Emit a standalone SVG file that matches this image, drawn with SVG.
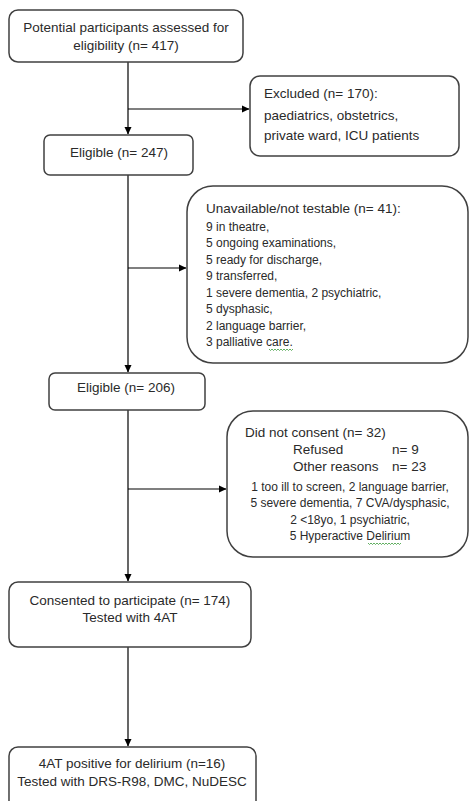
<svg xmlns="http://www.w3.org/2000/svg" width="469" height="801" viewBox="0 0 469 801">
<defs>
<style>
.box{fill:#fff;stroke:#404040;stroke-width:1.5}
.t{font-family:"Liberation Sans",Arial,sans-serif;font-size:13.5px;fill:#2a2a2a}
.s{font-family:"Liberation Sans",Arial,sans-serif;font-size:12px;fill:#2a2a2a}
.c{text-anchor:middle}
.ln{stroke:#000;stroke-width:1.2;fill:none}
.sq{stroke:#3a9a3a;stroke-width:0.8;fill:none}
</style>
<marker id="ah" markerWidth="8" markerHeight="8" refX="7" refY="4" orient="auto" markerUnits="userSpaceOnUse">
<path d="M0,0.5 L7.5,4 L0,7.5 Z" fill="#000"/>
</marker>
</defs>
<rect width="469" height="801" fill="#fff"/>
<g id="connectors">
<line class="ln" x1="128" y1="62" x2="128" y2="134" marker-end="url(#ah)"/>
<line class="ln" x1="128" y1="109" x2="249" y2="109" marker-end="url(#ah)"/>
<line class="ln" x1="128" y1="175" x2="128" y2="372" marker-end="url(#ah)"/>
<line class="ln" x1="128" y1="268" x2="186" y2="268" marker-end="url(#ah)"/>
<line class="ln" x1="128" y1="410" x2="128" y2="581" marker-end="url(#ah)"/>
<line class="ln" x1="128" y1="489" x2="226" y2="489" marker-end="url(#ah)"/>
<line class="ln" x1="128" y1="647" x2="128" y2="746" marker-end="url(#ah)"/>
</g>
<g id="n1">
<rect class="box" x="9" y="10" width="234" height="52" rx="9"/>
<text class="t c" x="126" y="32">Potential participants assessed for</text>
<text class="t c" x="126" y="50">eligibility (n= 417)</text>
</g>
<g id="excluded">
<rect class="box" x="250" y="76" width="209" height="80" rx="10"/>
<text class="t" x="264" y="98">Excluded (n= 170):</text>
<text class="t" x="264" y="120">paediatrics, obstetrics,</text>
<text class="t" x="264" y="140">private ward, ICU patients</text>
</g>
<g id="eligible247">
<rect class="box" x="44" y="135" width="149" height="40" rx="6"/>
<text class="t c" x="119" y="157">Eligible (n= 247)</text>
</g>
<g id="unavailable">
<rect class="box" x="187" y="186" width="281" height="177" rx="26"/>
<text class="t" x="206" y="213">Unavailable/not testable (n= 41):</text>
<text class="s" x="206" y="231">9 in theatre,</text>
<text class="s" x="206" y="247">5 ongoing examinations,</text>
<text class="s" x="206" y="264">5 ready for discharge,</text>
<text class="s" x="206" y="280">9 transferred,</text>
<text class="s" x="206" y="297">1 severe dementia, 2 psychiatric,</text>
<text class="s" x="206" y="313">5 dysphasic,</text>
<text class="s" x="206" y="330">2 language barrier,</text>
<text class="s" x="206" y="346">3 palliative care.</text>
<path class="sq" d="M269,349 l1.5,1.5 l1.5,-1.5 l1.5,1.5 l1.5,-1.5 l1.5,1.5 l1.5,-1.5 l1.5,1.5 l1.5,-1.5 l1.5,1.5 l1.5,-1.5 l1.5,1.5 l1.5,-1.5 l1.5,1.5 l1.5,-1.5 l1.5,1.5 l1.5,-1.5"/>
</g>
<g id="eligible206">
<rect class="box" x="49" y="373" width="156" height="37" rx="6"/>
<text class="t c" x="126" y="392">Eligible (n= 206)</text>
</g>
<g id="noconsent">
<rect class="box" x="227" y="411" width="241" height="146" rx="26"/>
<text class="t" x="245" y="437">Did not consent (n= 32)</text>
<text class="t" x="293" y="454">Refused</text>
<text class="t" x="392" y="454">n= 9</text>
<text class="t" x="293" y="471">Other reasons</text>
<text class="t" x="392" y="471">n= 23</text>
<text class="s c" x="350" y="491">1 too ill to screen, 2 language barrier,</text>
<text class="s c" x="350" y="507">5 severe dementia, 7 CVA/dysphasic,</text>
<text class="s c" x="350" y="524">2 &lt;18yo, 1 psychiatric,</text>
<text class="s c" x="350" y="540">5 Hyperactive Delirium</text>
<path class="sq" d="M368,543 l1.5,1.5 l1.5,-1.5 l1.5,1.5 l1.5,-1.5 l1.5,1.5 l1.5,-1.5 l1.5,1.5 l1.5,-1.5 l1.5,1.5 l1.5,-1.5 l1.5,1.5 l1.5,-1.5 l1.5,1.5 l1.5,-1.5 l1.5,1.5 l1.5,-1.5 l1.5,1.5 l1.5,-1.5 l1.5,1.5 l1.5,-1.5 l1.5,1.5 l1.5,-1.5"/>
</g>
<g id="consented">
<rect class="box" x="9" y="582" width="242" height="65" rx="9"/>
<text class="t c" x="130" y="605">Consented to participate (n= 174)</text>
<text class="t c" x="130" y="622">Tested with 4AT</text>
</g>
<g id="positive">
<rect class="box" x="9" y="747" width="247" height="70" rx="9"/>
<text class="t c" x="132" y="768">4AT positive for delirium (n=16)</text>
<text class="t c" x="132" y="786">Tested with DRS-R98, DMC, NuDESC</text>
</g>
</svg>
